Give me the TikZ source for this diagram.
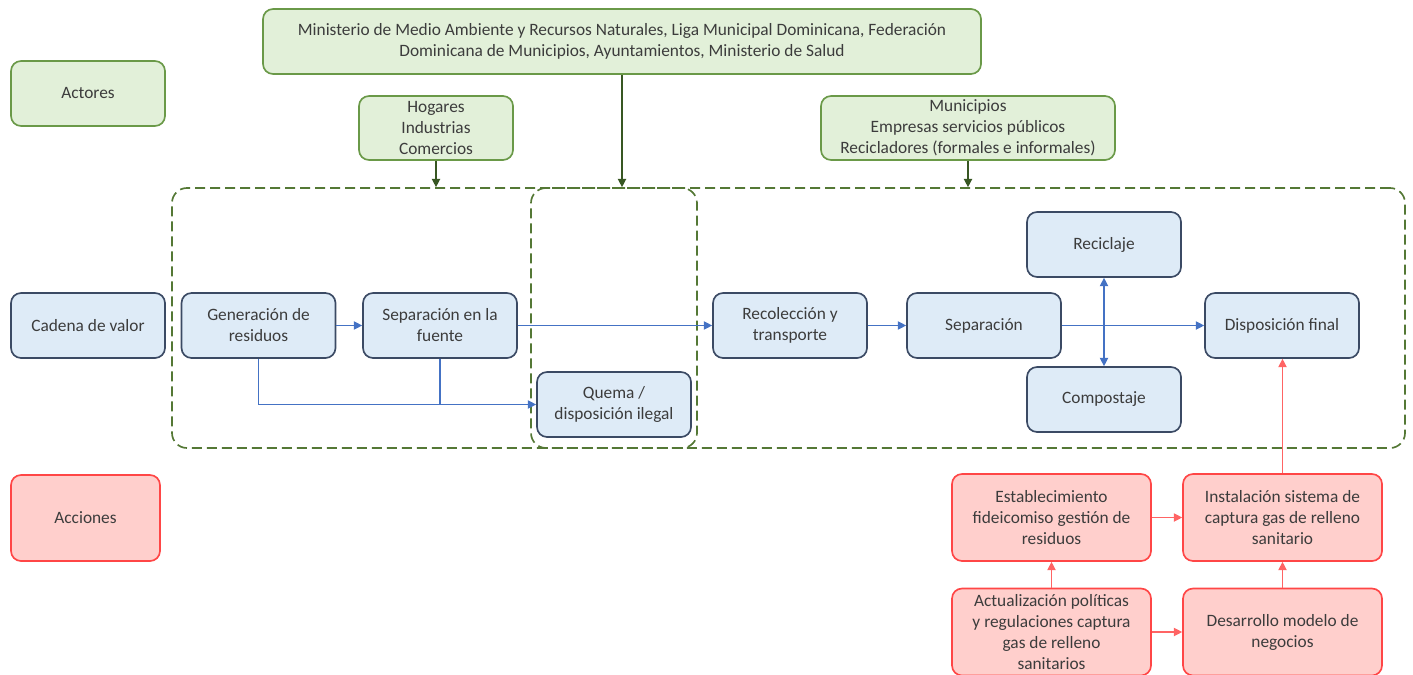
\documentclass[tikz,border=0pt]{standalone}
\usepackage{fontspec}
\setmainfont{Carlito}
\usepackage{tikz}
\usetikzlibrary{arrows.meta}

\definecolor{actfill}{RGB}{226,240,217}
\definecolor{actline}{RGB}{106,153,72}
\definecolor{actarrow}{RGB}{56,87,35}
\definecolor{dashgreen}{RGB}{84,120,53}
\definecolor{chainfill}{RGB}{222,235,247}
\definecolor{chainline}{RGB}{59,74,100}
\definecolor{chainarrow}{RGB}{68,114,196}
\definecolor{accfill}{RGB}{255,207,204}
\definecolor{accline}{RGB}{255,70,70}
\definecolor{accarrow}{RGB}{255,100,100}
\definecolor{txt}{RGB}{60,60,60}

\begin{document}
\begin{tikzpicture}[x=0.6pt, y=-0.6pt, font=\fontsize{10.4}{12.6}\selectfont, text=txt,
    box/.style={rounded corners=6pt, line width=1pt, align=center,
        inner sep=2pt, minimum width=92.4pt, minimum height=39pt},
    actor/.style={box, draw=actline, fill=actfill},
    chain/.style={box, draw=chainline, fill=chainfill},
    action/.style={box, draw=accline, fill=accfill, minimum width=119.4pt, minimum height=52.2pt},
    dashbox/.style={draw=dashgreen, line width=1pt, dash pattern=on 6pt off 3pt,
        rounded corners=9pt, minimum height=156pt},
    greenarr/.style={-{Triangle[width=5pt,length=5pt]}, actarrow, line width=0.8pt},
    bluearr/.style={-{Triangle[width=5pt,length=5pt]}, chainarrow, line width=0.7pt},
    redarr/.style={-{Triangle[width=5pt,length=5pt]}, accarrow, line width=0.7pt}]
    \useasboundingbox (0,0) rectangle (1413,675);

    % Dashed groups
    \node[dashbox, minimum width=739.8pt] (grupo) at (788.5,318) {};
    \node[dashbox, minimum width=99.6pt] (ilegal) at (614,318) {};

    % Row labels
    \node[actor] (actores) at (88,93.5) {Actores};
    \node[chain] (cadena) at (88,325.5) {Cadena de valor};
    \node[action, minimum width=89.4pt, minimum height=51.6pt] (acciones) at (85.5,518) {Acciones};

    % Actors
    \node[actor, minimum width=430.8pt] (ministerio) at (622,41.5)
        {Ministerio de Medio Ambiente y Recursos Naturales, Liga Municipal Dominicana, Federación\\
         Dominicana de Municipios, Ayuntamientos, Ministerio de Salud};
    \node[actor, minimum height=38.4pt] (hogares) at (436,128) {Hogares\\Industrias\\Comercios};
    \node[actor, minimum width=176.4pt, minimum height=38.4pt] (municipios) at (968,128)
        {Municipios\\Empresas servicios públicos\\Recicladores (formales e informales)};

    % Value chain
    \node[chain] (generacion) at (258.5,325.5) {Generación de\\residuos};
    \node[chain] (sepfuente) at (440,325.5) {Separación en la\\fuente};
    \node[chain] (quema) at (614,404.5) {Quema /\\disposición ilegal};
    \node[chain] (recoleccion) at (790,325.5) {Recolección y\\transporte};
    \node[chain] (separacion) at (984,325.5) {Separación};
    \node[chain] (reciclaje) at (1104,244.5) {Reciclaje};
    \node[chain] (compostaje) at (1104,399.5) {Compostaje};
    \node[chain] (disposicion) at (1282,325.5) {Disposición final};

    % Actions
    \node[action] (fideicomiso) at (1051.5,517.5) {Establecimiento\\fideicomiso gestión de\\residuos};
    \node[action] (instalacion) at (1282.5,517.5) {Instalación sistema de\\captura gas de relleno\\sanitario};
    \node[action] (politicas) at (1051.5,632) {Actualización políticas\\y regulaciones captura\\gas de relleno\\sanitarios};
    \node[action] (negocios) at (1282.5,632) {Desarrollo modelo de\\negocios};

    % Actor arrows
    \draw[greenarr] (ministerio.south) -- (ministerio.south |- grupo.north);
    \draw[greenarr] (hogares.south) -- (hogares.south |- grupo.north);
    \draw[greenarr] (municipios.south) -- (municipios.south |- grupo.north);

    % Chain arrows
    \draw[bluearr] (generacion) -- (sepfuente);
    \draw[bluearr] (sepfuente) -- (recoleccion);
    \draw[bluearr] (recoleccion) -- (separacion);
    \draw[bluearr] (separacion) -- (disposicion);
    \draw[bluearr, {Triangle[width=5pt,length=5pt]}-{Triangle[width=5pt,length=5pt]}] (reciclaje) -- (compostaje);
    \draw[bluearr] (generacion.south) |- (quema.west);
    \draw[chainarrow, line width=0.7pt] (sepfuente.south) -- (sepfuente.south |- quema.west);

    % Action arrows
    \draw[redarr] (instalacion.north) -- (instalacion.north |- disposicion.south);
    \draw[redarr] (fideicomiso) -- (instalacion);
    \draw[redarr] (politicas) -- (fideicomiso);
    \draw[redarr] (negocios) -- (instalacion);
    \draw[redarr] (politicas) -- (negocios);
\end{tikzpicture}
\end{document}
